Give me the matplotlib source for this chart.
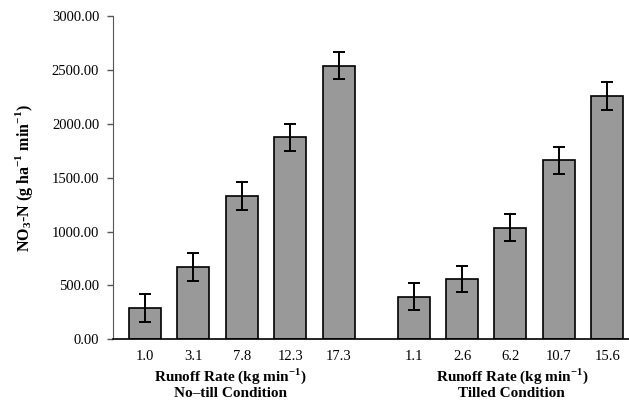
import numpy as np
import matplotlib
matplotlib.use('Agg')
import matplotlib.pyplot as plt

plt.rcParams['font.family'] = ['Liberation Serif', 'DejaVu Serif']
plt.rcParams['mathtext.fontset'] = 'custom'
plt.rcParams['mathtext.rm'] = 'Liberation Serif'
plt.rcParams['mathtext.bf'] = 'Liberation Serif:bold'

# data
notill_rates = ['1.0', '3.1', '7.8', '12.3', '17.3']
notill_no3 = [287, 672, 1330, 1877, 2540]
notill_err = [130, 130, 130, 125, 125]

tilled_rates = ['1.1', '2.6', '6.2', '10.7', '15.6']
tilled_no3 = [394, 556, 1037, 1660, 2259]
tilled_err = [125, 120, 123, 123, 130]

group_names = ['No\u2013till Condition', 'Tilled Condition']
y_ticks = [0, 500, 1000, 1500, 2000, 2500, 3000]

# positions: two groups of 5 with a wider gap between them
x1 = np.arange(5)
x2 = np.arange(5) + 5.55
xs = np.concatenate([x1, x2])
vals = notill_no3 + tilled_no3
errs = notill_err + tilled_err
labels = notill_rates + tilled_rates

fig = plt.figure(figsize=(6.29, 4.04), dpi=100)
ax = fig.add_axes([0.1797, 0.160, 0.8203, 0.8004])

ax.bar(xs, vals, width=0.66, color='#999999', edgecolor='black', linewidth=1.2)
ax.errorbar(xs, vals, yerr=errs, fmt='none', ecolor='black', elinewidth=1.4,
            capsize=4.5, capthick=1.4)

ax.set_xlim(-0.66, 10.0)
ax.set_ylim(0, 3000)
ax.set_yticks(y_ticks)
ax.set_yticklabels(['%.2f' % v for v in y_ticks], fontsize=10.5)
ax.set_xticks(xs)
ax.set_xticklabels(labels, fontsize=10.5)
ax.tick_params(axis='x', length=0, pad=8)
ax.tick_params(axis='y', length=4, width=1, color='#555555', direction='out', pad=6)

for s in ['top', 'right']:
    ax.spines[s].set_visible(False)
ax.spines['left'].set_color('#555555')
ax.spines['bottom'].set_linewidth(1.2)

ax.set_ylabel(r'NO$_\mathbf{3}$-N (g ha$^{\mathbf{-1}}$ min$^{\mathbf{-1}}$)',
              fontsize=11.5, fontweight='bold', labelpad=12)

# group captions under the tick labels
centres = [x1.mean() - 0.24, x2.mean() + 0.03]
for c, name in zip(centres, group_names):
    ax.text(c, -0.115, r'Runoff Rate (kg min$^{\mathbf{-1}}$)', transform=ax.get_xaxis_transform(),
            ha='center', va='center', fontsize=11, fontweight='bold')
    ax.text(c, -0.168, name, transform=ax.get_xaxis_transform(),
            ha='center', va='center', fontsize=11, fontweight='bold')

fig.savefig('out.png', dpi=100)
